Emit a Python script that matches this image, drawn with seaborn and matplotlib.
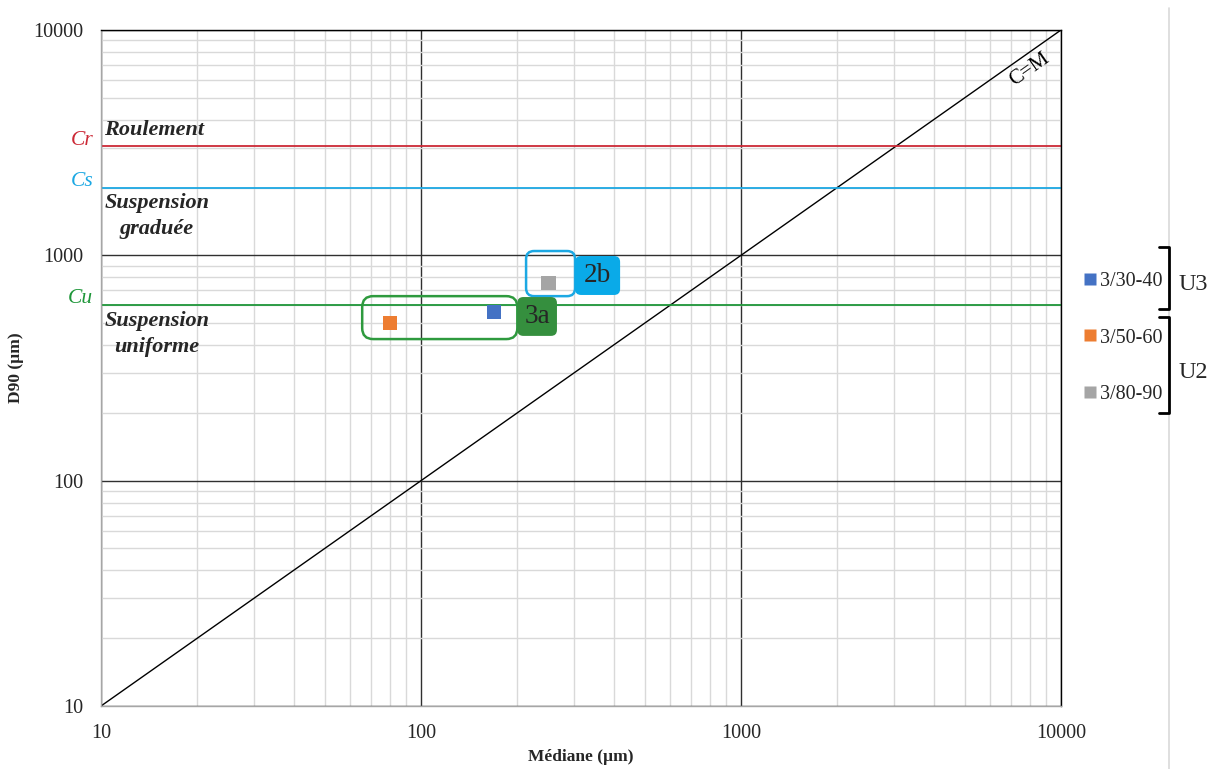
import matplotlib
matplotlib.use("Agg")
import matplotlib.pyplot as plt
import seaborn as sns
import pandas as pd
from matplotlib.patches import FancyBboxPatch
from matplotlib.transforms import IdentityTransform, blended_transform_factory
from matplotlib.lines import Line2D
from matplotlib.ticker import LogLocator, FixedLocator, NullFormatter

# ---- data ----
samples = ["3/30-40", "3/50-60", "3/80-90"]
mediane = [169, 80, 250]
d90 = [560, 500, 753]
colors = ["#4472C4", "#ED7D31", "#A5A5A5"]

cm_line = [10, 10000]
thresh_names = ["Cr", "Cs", "Cu"]
thresh_values = [3050, 2000, 605]
thresh_colors = ["#CC2936", "#1CA8E3", "#1E9639"]

major_ticks = [10, 100, 1000, 10000]
major_labels = ["10", "100", "1000", "10000"]

sns.set_style("white")
plt.rcParams["font.family"] = ["Liberation Serif", "DejaVu Serif"]

W, H = 1212, 769
fig = plt.figure(figsize=(W / 100, H / 100), dpi=100)
ax = fig.add_axes([101 / W, (H - 706) / H, 960 / W, 676 / H])
ax.set_xscale("log")
ax.set_yscale("log")
ax.set_xlim(10, 10000)
ax.set_ylim(10, 10000)

# grid
ax.xaxis.set_minor_locator(LogLocator(base=10, subs=range(2, 10)))
ax.yaxis.set_minor_locator(LogLocator(base=10, subs=range(2, 10)))
ax.xaxis.set_minor_formatter(NullFormatter())
ax.yaxis.set_minor_formatter(NullFormatter())
ax.xaxis.set_major_locator(FixedLocator(major_ticks))
ax.yaxis.set_major_locator(FixedLocator(major_ticks))
ax.set_xticklabels(major_labels)
ax.set_yticklabels(major_labels)
ax.grid(True, which="minor", color="#D9D9D9", linewidth=1.0, zorder=0)
ax.grid(True, which="major", color="#303030", linewidth=1.0, zorder=0.5)
ax.set_axisbelow(True)

for side in ["left", "bottom"]:
    ax.spines[side].set_color("#A6A6A6")
    ax.spines[side].set_linewidth(1.0)
for side in ["top", "right"]:
    ax.spines[side].set_color("#000000")
    ax.spines[side].set_linewidth(1.0)

ax.tick_params(axis="both", which="major", labelsize=14.5, length=5, width=1,
               color="#808080", direction="out")
ax.tick_params(axis="y", which="major", pad=8)
ax.tick_params(axis="x", which="major", pad=8)
ax.tick_params(axis="y", which="minor", length=5, width=1, color="#A6A6A6")
ax.tick_params(axis="x", which="minor", length=0)

# C=M line
ax.plot(cm_line, cm_line, color="black", linewidth=1.0, zorder=2)

# threshold lines
trans = blended_transform_factory(ax.transAxes, ax.transData)
for name, val, col in zip(thresh_names, thresh_values, thresh_colors):
    ax.axhline(val, color=col, linewidth=1.3, zorder=2)
    ax.annotate(name, xy=(-0.008, val), xycoords=trans, xytext=(0, 4),
                textcoords="offset points", ha="right", va="center",
                fontsize=15.5, style="italic", color=col,
                annotation_clip=False)

# scatter
df = pd.DataFrame({"Médiane": mediane, "D90": d90, "Échantillon": samples})
sns.scatterplot(data=df, x="Médiane", y="D90", hue="Échantillon",
                palette=colors, marker="s", s=110, edgecolor="none",
                ax=ax, zorder=5, legend=False)

# region labels
lab_kw = dict(transform=ax.transAxes, fontsize=16, fontweight="bold",
              style="italic", va="center")
ax.text(0.003, 0.852, "Roulement", ha="left", **lab_kw)
ax.text(0.058, 0.725, "Suspension\ngraduée", ha="center",
        multialignment="center", linespacing=1.4, **lab_kw)
ax.text(0.058, 0.550, "Suspension\nuniforme", ha="center",
        multialignment="center", linespacing=1.4, **lab_kw)

# C=M label
ax.text(7960, 6700, "C=M", rotation=35.2, fontsize=15,
        ha="center", va="center", rotation_mode="anchor", color="black")

ax.set_xlabel("Médiane (µm)", fontsize=12.5, fontweight="bold", va="center")
ax.set_ylabel("D90 (µm)", fontsize=12.5, fontweight="bold", va="center")
ax.xaxis.set_label_coords(0.5, -(757 - 706) / 676)
ax.yaxis.set_label_coords((16 - 101) / 960, 0.5)

# rounded boxes in pixel space
fig.canvas.draw()
idt = IdentityTransform()


def px_box(x0, x1, y0, y1, **kw):
    (px0, py0) = ax.transData.transform((x0, y0))
    (px1, py1) = ax.transData.transform((x1, y1))
    r = kw.pop("r", 8)
    p = FancyBboxPatch((px0 + r, py0 + r), (px1 - px0) - 2 * r,
                       (py1 - py0) - 2 * r,
                       boxstyle=f"round,pad={r},rounding_size={r}",
                       transform=idt, clip_on=False, **kw)
    fig.add_artist(p)
    return (px0 + px1) / 2, (py0 + py1) / 2


px_box(65.5, 200, 425, 659, r=11, facecolor="none", edgecolor="#2E9A3E",
       linewidth=1.8, zorder=3)
px_box(213, 303, 659, 1045, r=8, facecolor="none", edgecolor="#1CA8E3",
       linewidth=1.8, zorder=3)
cx, cy = px_box(200, 266, 439, 653, r=6, facecolor="#358F3E",
                edgecolor="none", zorder=4)
fig.text(cx / W, cy / H, "3a", fontsize=19.5, ha="center", va="center",
         zorder=10)
cx, cy = px_box(303, 419, 667, 993, r=6, facecolor="#0AAAE8",
                edgecolor="none", zorder=4)
fig.text(cx / W, cy / H, "2b", fontsize=19.5, ha="center", va="center",
         zorder=10)

# legend
handles = [Line2D([], [], marker="s", linestyle="none", markersize=9,
                  markerfacecolor=c, markeredgecolor="none") for c in colors]
fig.legend(handles, samples, loc="upper left",
           bbox_to_anchor=(1074 / W, 1 - 262 / H), frameon=False,
           fontsize=14.5, handlelength=0.6, handletextpad=0.2,
           labelspacing=1.85, borderpad=0)

# figure-level divider line and brackets
fig.add_artist(Line2D([1169 / W, 1169 / W], [0, 1 - 8 / H], color="#D9D9D9",
                      linewidth=1.2))
for y0, y1 in [(247, 309), (317, 413)]:
    xs = [1159 / W, 1169 / W, 1169 / W, 1159 / W]
    ys = [1 - y0 / H, 1 - y0 / H, 1 - y1 / H, 1 - y1 / H]
    fig.add_artist(Line2D(xs, ys, color="black", linewidth=2))
fig.text(1193 / W, 1 - 285 / H, "U3", fontsize=17.5, ha="center", va="center")
fig.text(1193 / W, 1 - 373 / H, "U2", fontsize=17.5, ha="center", va="center")

fig.savefig("out.png", dpi=100)
